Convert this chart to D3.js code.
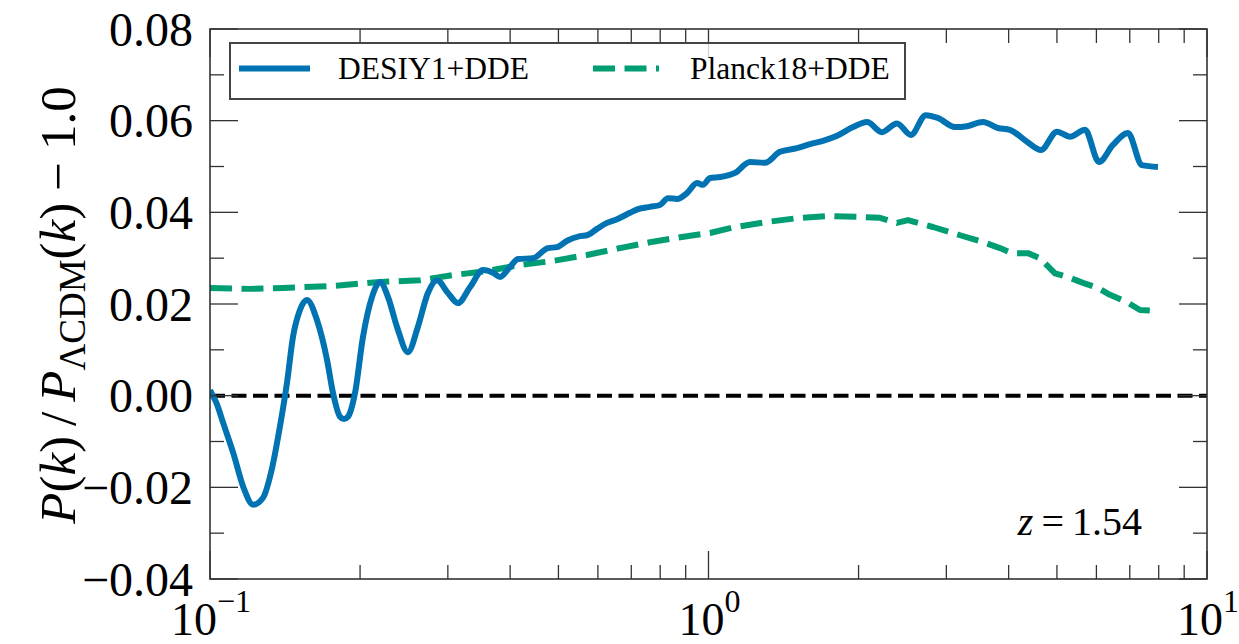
<!DOCTYPE html>
<html><head><meta charset="utf-8">
<script src="https://cdn.jsdelivr.net/npm/d3@7"></script>
<style>
html,body{margin:0;padding:0;background:#fff;}
svg{display:block;}
svg text{font-family:"Liberation Serif","DejaVu Serif","Noto Serif","Times New Roman","Nimbus Roman","FreeSerif",Times,serif;fill:#000;}
</style></head><body>
<svg id="chart" width="1239" height="644" font-family="Liberation Serif, DejaVu Serif, serif"></svg>
<script>
// ---- data ----
const kDesi = [0.1,0.1031,0.1063,0.1114,0.1166,0.1221,0.1277,0.1332,0.1381,0.1427,0.1467,0.1515,0.1565,0.1639,0.1717,0.1765,0.1823,0.1857,0.1891,0.1954,0.2027,0.2113,0.2193,0.2276,0.2372,0.2495,0.2612,0.2736,0.2853,0.3002,0.3144,0.3325,0.3529,0.3697,0.3818,0.3998,0.4148,0.4445,0.4764,0.4966,0.5203,0.5524,0.5706,0.5976,0.6258,0.6554,0.6959,0.7221,0.7633,0.7993,0.8294,0.8647,0.9055,0.9483,0.9750,1.007,1.055,1.130,1.211,1.298,1.391,1.505,1.598,1.697,1.811,1.950,2.080,2.228,2.388,2.547,2.729,2.884,3.123,3.301,3.553,3.807,4.024,4.354,4.645,5.001,5.312,5.692,6.072,6.477,6.941,7.404,7.973];
const desiValues = [0.0012,-0.0017,-0.006,-0.0126,-0.0199,-0.0238,-0.0223,-0.0158,-0.0068,0.0028,0.0128,0.0187,0.0209,0.0165,0.0078,0.0006,-0.0046,-0.0051,-0.0046,0.0006,0.0128,0.0215,0.0248,0.0215,0.015,0.0095,0.015,0.0224,0.0252,0.0224,0.0202,0.0237,0.0274,0.0268,0.0259,0.0281,0.0298,0.030,0.0322,0.0324,0.0338,0.0348,0.035,0.0364,0.0377,0.0385,0.0399,0.0407,0.0412,0.0416,0.0431,0.0429,0.0442,0.0464,0.046,0.0475,0.0477,0.0486,0.051,0.0508,0.0532,0.054,0.0549,0.0556,0.0567,0.0586,0.0597,0.0575,0.0594,0.0569,0.0612,0.0606,0.0586,0.0588,0.0597,0.0584,0.058,0.0554,0.0536,0.0576,0.0565,0.058,0.051,0.0547,0.0573,0.0503,0.0499];
const kPlanck = [0.1,0.1203,0.1401,0.1741,0.2193,0.2638,0.3073,0.3595,0.4187,0.4876,0.5706,0.6645,0.7739,0.9055,1.007,1.120,1.310,1.526,1.752,2.014,2.208,2.388,2.513,2.820,3.196,3.553,3.844,4.062,4.374,4.624,4.955,5.312,5.640,6.044,6.388,6.909,7.336,7.865];
const planckValues = [0.0235,0.0233,0.0235,0.0239,0.0248,0.0252,0.0263,0.0272,0.0285,0.0294,0.0307,0.0322,0.0336,0.0348,0.0355,0.0367,0.0379,0.0388,0.0392,0.039,0.0388,0.0377,0.0383,0.0368,0.035,0.0335,0.0322,0.0311,0.0311,0.030,0.0267,0.0257,0.0246,0.0235,0.022,0.0204,0.0187,0.0185];
const seriesNames = ["DESIY1+DDE","Planck18+DDE"];
const seriesColors = ["#0173b2","#029e73"];
const yTickValues = [-0.04,-0.02,0,0.02,0.04,0.06,0.08];
const yTickLabels = ["\u22120.04","\u22120.02","0.00","0.02","0.04","0.06","0.08"];
const yMinorValues = [-0.03,-0.01,0.01,0.03,0.05,0.07];
const xTickValues = [0.1,1,10];
const xTickExponents = ["\u22121","0","1"];
const xMinorValues = [0.2,0.3,0.4,0.5,0.6,0.7,0.8,0.9,2,3,4,5,6,7,8,9];
const redshiftLabel = "1.54";

// ---- layout ----
const L = 210, R = 1207, T = 29, B = 579;
const svg = d3.select("#chart");
const x = d3.scaleLog().domain([0.1,10]).range([L,R]);
const y = d3.scaleLinear().domain([-0.04,0.08]).range([B,T]);
const axisColor = "#333";

svg.append("defs").append("clipPath").attr("id","clip")
  .append("rect").attr("x",L).attr("y",T).attr("width",R-L).attr("height",B-T);

const plot = svg.append("g").attr("clip-path","url(#clip)");

plot.append("line").attr("x1",L).attr("x2",R).attr("y1",y(0)).attr("y2",y(0))
  .attr("stroke","#000").attr("stroke-width",4).attr("stroke-dasharray","15,6.5");

const desi = kDesi.map((k,i)=>[k,desiValues[i]]);
const planck = kPlanck.map((k,i)=>[k,planckValues[i]]);

plot.append("path").datum(planck)
  .attr("d", d3.line().x(d=>x(d[0])).y(d=>y(d[1])).curve(d3.curveLinear))
  .attr("fill","none").attr("stroke",seriesColors[1]).attr("stroke-width",6)
  .attr("stroke-dasharray","22,9.5").attr("stroke-linejoin","round");

plot.append("path").datum(desi)
  .attr("d", d3.line().x(d=>x(d[0])).y(d=>y(d[1])).curve(d3.curveMonotoneX))
  .attr("fill","none").attr("stroke",seriesColors[0]).attr("stroke-width",6)
  .attr("stroke-linejoin","round");

const tk = svg.append("g").attr("stroke",axisColor).attr("stroke-width",1.3);
xTickValues.forEach(v=>{
  tk.append("line").attr("x1",x(v)).attr("x2",x(v)).attr("y1",B).attr("y2",B-28);
  tk.append("line").attr("x1",x(v)).attr("x2",x(v)).attr("y1",T).attr("y2",T+28);
});
xMinorValues.forEach(v=>{
  tk.append("line").attr("x1",x(v)).attr("x2",x(v)).attr("y1",B).attr("y2",B-14);
  tk.append("line").attr("x1",x(v)).attr("x2",x(v)).attr("y1",T).attr("y2",T+14);
});
yTickValues.forEach(v=>{
  tk.append("line").attr("x1",L).attr("x2",L+28).attr("y1",y(v)).attr("y2",y(v));
  tk.append("line").attr("x1",R).attr("x2",R-28).attr("y1",y(v)).attr("y2",y(v));
});
yMinorValues.forEach(v=>{
  tk.append("line").attr("x1",L).attr("x2",L+14).attr("y1",y(v)).attr("y2",y(v));
  tk.append("line").attr("x1",R).attr("x2",R-14).attr("y1",y(v)).attr("y2",y(v));
});

svg.append("rect").attr("x",L).attr("y",T).attr("width",R-L).attr("height",B-T)
  .attr("fill","none").attr("stroke",axisColor).attr("stroke-width",1.6);

yTickValues.forEach((v,i)=>{
  svg.append("text").attr("x",L-17).attr("y",y(v)).attr("dy","0.35em")
    .attr("text-anchor","end").style("font-size","48px").text(yTickLabels[i]);
});
xTickValues.forEach((v,i)=>{
  const t = svg.append("text").attr("x",x(v)+1).attr("y",635)
    .attr("text-anchor","middle").style("font-size","46px");
  t.append("tspan").text("10");
  t.append("tspan").attr("dy",-23).style("font-size","32px").text(xTickExponents[i]);
});

const yl = svg.append("text").attr("transform","translate(75,305) rotate(-90)")
  .attr("text-anchor","middle").style("font-size","51px");
yl.append("tspan").attr("font-style","italic").text("P");
yl.append("tspan").text("(");
yl.append("tspan").attr("font-style","italic").text("k");
yl.append("tspan").text(")");
yl.append("tspan").attr("dx",10).text("/");
yl.append("tspan").attr("dx",10).attr("font-style","italic").text("P");
yl.append("tspan").attr("dy",10).style("font-size","37px").text("\u039BCDM");
yl.append("tspan").attr("dy",-10).text("(");
yl.append("tspan").attr("font-style","italic").text("k");
yl.append("tspan").text(")");
yl.append("tspan").attr("dx",12).text("\u2212");
yl.append("tspan").attr("dx",12).text("1.0");

const lg = svg.append("g");
lg.append("rect").attr("x",230).attr("y",43).attr("width",675).attr("height",56)
  .attr("fill","#fff").attr("fill-opacity",0.8).attr("stroke","#444").attr("stroke-width",2);
lg.append("line").attr("x1",239).attr("x2",310).attr("y1",68.5).attr("y2",68.5)
  .attr("stroke",seriesColors[0]).attr("stroke-width",6);
lg.append("text").attr("x",338).attr("y",79).style("font-size","31.5px").text(seriesNames[0]);
lg.append("line").attr("x1",593).attr("x2",659).attr("y1",68.5).attr("y2",68.5)
  .attr("stroke",seriesColors[1]).attr("stroke-width",6).attr("stroke-dasharray","22,9.5");
lg.append("text").attr("x",690).attr("y",79).style("font-size","31.5px").text(seriesNames[1]);

const za = svg.append("text").attr("x",1142).attr("y",535).attr("text-anchor","end").style("font-size","40px");
za.append("tspan").attr("font-style","italic").text("z");
za.append("tspan").attr("dx",8).text("=");
za.append("tspan").attr("dx",8).text(redshiftLabel);
</script>
</body></html>
